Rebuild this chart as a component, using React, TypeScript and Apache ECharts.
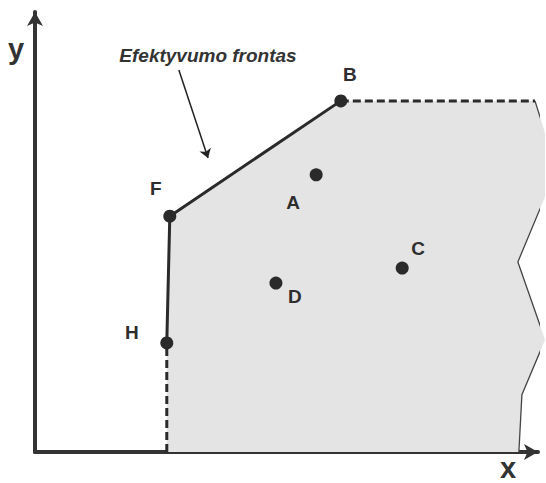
import React, { useEffect, useRef } from "react";
import * as echarts from "echarts";

// Production possibility set (PPS) polygon, in axis units (0..10)
const ppsX = [2.62, 2.62, 2.68, 6.08, 9.94, 10.14, 10.14, 9.6, 10.14, 9.68, 9.62];
const ppsY = [0, 2.48, 5.36, 7.98, 7.98, 7.25, 5.8, 4.32, 2.55, 1.3, 0];

// Efficiency frontier (solid) H -> F -> B
const frontierX = [2.62, 2.68, 6.08];
const frontierY = [2.48, 5.36, 7.98];

// Dashed extensions
const lowerDashX = [2.62, 2.62];
const lowerDashY = [0, 2.48];
const upperDashX = [6.08, 9.94];
const upperDashY = [7.98, 7.98];

// Jagged right boundary of PPS
const edgeX = [9.94, 10.14, 10.14, 9.6, 10.14, 9.68, 9.62];
const edgeY = [7.98, 7.25, 5.8, 4.32, 2.55, 1.3, 0];

// Decision units
const pointNames = ["A", "B", "C", "D", "F", "H"];
const pointX = [5.59, 6.08, 7.3, 4.79, 2.68, 2.62];
const pointY = [6.3, 7.98, 4.18, 3.84, 5.36, 2.48];

// Annotation arrow for "Efektyvumo frontas"
const annotArrowX = [2.86, 3.44];
const annotArrowY = [8.68, 6.68];

// label offsets (style)
const labelOffsets: Record<string, [number, number]> = {
  A: [-23, 28],
  B: [9, -26],
  C: [16, -20],
  D: [19, 13],
  F: [-14, -28],
  H: [-35, -10],
};

const DARK = "#2a2a2a";
const FONT = "'Liberation Sans', Arial, sans-serif";

const zip = (xs: number[], ys: number[]) => xs.map((x, i) => [x, ys[i]]);

export default function App() {
  const ref = useRef<HTMLDivElement>(null);
  useEffect(() => {
    if (!ref.current) return;
    const chart = echarts.init(ref.current, undefined, { renderer: "svg" });
    const axisCommon = {
      type: "value" as const,
      min: 0,
      max: 10,
      axisLine: {
        show: true,
        symbol: ["none", "arrow"],
        symbolSize: [12, 14],
        lineStyle: { color: "#333", width: 4 },
      },
      axisTick: { show: false },
      axisLabel: { show: false },
      splitLine: { show: false },
    };
    chart.setOption({
      animation: false,
      backgroundColor: "#fff",
      grid: { left: 35, right: 8, top: 12, bottom: 31, containLabel: false },
      xAxis: { ...axisCommon },
      yAxis: { ...axisCommon },
      series: [
        {
          type: "custom",
          clip: false,
          silent: true,
          z: 1,
          data: [0],
          renderItem: (_params: any, api: any) => {
            const pts = ppsX.map((x, i) => api.coord([x, ppsY[i]]));
            return {
              type: "polygon",
              shape: { points: pts },
              style: { fill: "#e4e4e4", stroke: "none" },
            };
          },
        },
        {
          type: "line",
          data: zip(edgeX, edgeY),
          clip: false,
          symbol: "none",
          z: 2,
          lineStyle: { color: "#444", width: 1.3 },
        },
        {
          type: "line",
          data: zip(lowerDashX, lowerDashY),
          clip: false,
          symbol: "none",
          z: 3,
          lineStyle: { color: DARK, width: 3, type: [8, 4] },
        },
        {
          type: "line",
          data: zip(upperDashX, upperDashY),
          clip: false,
          symbol: "none",
          z: 3,
          lineStyle: { color: DARK, width: 3, type: [8, 4] },
        },
        {
          type: "line",
          data: zip(frontierX, frontierY),
          clip: false,
          symbol: "none",
          z: 4,
          lineStyle: { color: DARK, width: 3 },
        },
        {
          type: "lines",
          coordinateSystem: "cartesian2d",
          z: 4,
          symbol: ["none", "arrow"],
          symbolSize: 9,
          lineStyle: { color: "#222", width: 1.5, opacity: 1 },
          data: [{ coords: zip(annotArrowX, annotArrowY) }],
        },
        {
          type: "scatter",
          clip: false,
          z: 5,
          symbol: "circle",
          symbolSize: 13,
          itemStyle: { color: DARK, opacity: 1 },
          emphasis: { disabled: true },
          data: pointNames.map((n, i) => ({
            name: n,
            value: [pointX[i], pointY[i]],
            label: {
              show: true,
              position: "inside",
              offset: labelOffsets[n],
              formatter: n,
              color: "#2e2e2e",
              opacity: 1,
              fontSize: 19,
              fontWeight: "bold",
              fontFamily: FONT,
            },
          })),
        },
      ],
      graphic: [
        {
          type: "text",
          x: 208,
          y: 55,
          style: {
            text: "Efektyvumo frontas",
            fill: "#333",
            font: `italic bold 19px ${FONT}`,
            align: "center",
            verticalAlign: "middle",
          },
        },
        {
          type: "text",
          x: 480,
          y: 148,
          style: {
            text: "PPS",
            fill: "#333",
            font: `italic bold 25px ${FONT}`,
            align: "center",
            verticalAlign: "middle",
          },
        },
        {
          type: "text",
          x: 16,
          y: 49,
          style: {
            text: "y",
            fill: "#333",
            font: `bold 29px ${FONT}`,
            align: "center",
            verticalAlign: "middle",
          },
        },
        {
          type: "text",
          x: 508,
          y: 468,
          style: {
            text: "x",
            fill: "#333",
            font: `bold 29px ${FONT}`,
            align: "center",
            verticalAlign: "middle",
          },
        },
      ],
    });
    return () => chart.dispose();
  }, []);
  return (
    <div
      ref={ref}
      style={{ width: 546, height: 483, position: "absolute", left: 0, top: 0 }}
    />
  );
}
